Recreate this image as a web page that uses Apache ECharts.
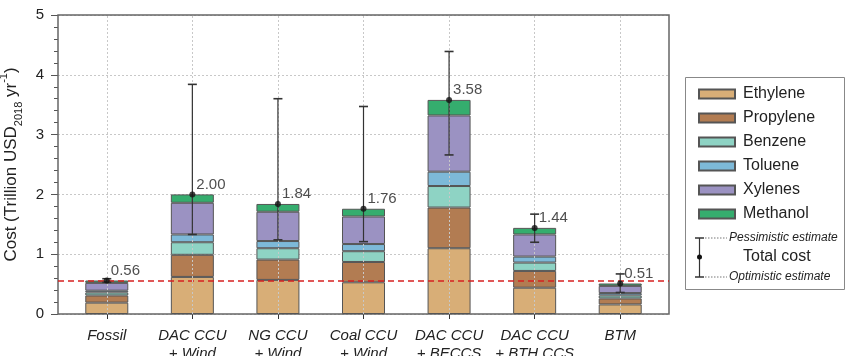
<!DOCTYPE html>
<html>
<head>
<meta charset="utf-8">
<script src="https://cdn.jsdelivr.net/npm/echarts@6/dist/echarts.min.js"></script>
<style>html,body{margin:0;padding:0;background:#fff;}#c{width:847px;height:356px;}</style>
</head>
<body>
<div id="c"></div>
<script>
const categories = ['Fossil', 'DAC CCU\n+ Wind', 'NG CCU\n+ Wind', 'Coal CCU\n+ Wind', 'DAC CCU\n+ BECCS', 'DAC CCU\n+ BTH CCS', 'BTM'];
const ethylene  = [0.19, 0.62, 0.57, 0.53, 1.10, 0.44, 0.16];
const propylene = [0.12, 0.37, 0.34, 0.34, 0.68, 0.28, 0.10];
const benzene   = [0.05, 0.21, 0.19, 0.18, 0.36, 0.14, 0.05];
const toluene   = [0.03, 0.13, 0.12, 0.12, 0.24, 0.10, 0.04];
const xylenes   = [0.13, 0.53, 0.49, 0.46, 0.94, 0.37, 0.12];
const methanol  = [0.04, 0.14, 0.13, 0.13, 0.26, 0.11, 0.04];
const totals    = [0.56, 2.00, 1.84, 1.76, 3.58, 1.44, 0.51];
const optimistic  = [0.53, 1.33, 1.24, 1.21, 2.66, 1.20, 0.36];
const pessimistic = [0.59, 3.84, 3.60, 3.47, 4.39, 1.67, 0.67];
const fossilLevel = 0.56;
const yTicks = [0, 1, 2, 3, 4, 5];

const seriesNames = ['Ethylene', 'Propylene', 'Benzene', 'Toluene', 'Xylenes', 'Methanol'];
const seriesData = [ethylene, propylene, benzene, toluene, xylenes, methanol];
const colors = ['#d8ae77', '#b27c52', '#8ed3c4', '#7db9d8', '#9b92c2', '#35ad6e'];

const FONT = 'Liberation Sans, Arial, sans-serif';
const chart = echarts.init(document.getElementById('c'), null, {renderer: 'canvas'});

const barSeries = seriesNames.map((n, k) => ({
  name: n, type: 'bar', stack: 'total', xAxisIndex: 0, yAxisIndex: 1,
  barWidth: 43, data: seriesData[k], z: 3,
  itemStyle: {color: colors[k], borderColor: '#555', borderWidth: 1},
  emphasis: {disabled: true}
}));

const option = {
  animation: false,
  backgroundColor: '#fff',
  textStyle: {fontFamily: FONT},
  grid: [
    {left: 64, right: 184, top: 15, bottom: 42, outerBoundsMode: 'none', containLabel: false},
    {left: 58, right: 178, top: 15, bottom: 42, outerBoundsMode: 'none', containLabel: false,
     show: true, borderColor: '#666', borderWidth: 1.5, z: 1}
  ],
  xAxis: [
    {type: 'category', gridIndex: 0, data: categories,
     axisLine: {show: false},
     axisTick: {show: true, alignWithLabel: true, length: 5, lineStyle: {color: '#333'}},
     axisLabel: {interval: 0, fontFamily: FONT, fontSize: 15, fontStyle: 'italic', color: '#222', margin: 13, lineHeight: 18},
     splitLine: {show: false}},
    {type: 'value', gridIndex: 1, min: 0, max: 1, show: false}
  ],
  yAxis: [
    {type: 'value', gridIndex: 1, min: 0, max: 5, interval: 1,
     axisLine: {show: false},
     axisTick: {show: true, inside: false, length: 7, lineStyle: {color: '#555'}},
     minorTick: {show: true, splitNumber: 5, length: 4, lineStyle: {color: '#555'}},
     splitLine: {show: true, lineStyle: {color: '#c8c8c8', type: [2, 2], width: 1}},
     axisLabel: {fontFamily: FONT, fontSize: 15, color: '#222', margin: 14},
     name: '{n|Cost (Trillion USD}{sub|2018}{n| yr}{sup|-1}{n|)}',
     nameLocation: 'middle', nameGap: 28, nameRotate: 90,
     nameTextStyle: {
       fontFamily: FONT, color: '#222',
       rich: {
         n: {fontFamily: FONT, fontSize: 17, color: '#222', lineHeight: 26, verticalAlign: 'middle'},
         sub: {fontFamily: FONT, fontSize: 11, color: '#222', lineHeight: 12, verticalAlign: 'bottom'},
         sup: {fontFamily: FONT, fontSize: 11, color: '#222', lineHeight: 12, verticalAlign: 'top'}
       }
     }},
    {type: 'value', gridIndex: 0, min: 0, max: 5, interval: 1, show: false}
  ],
  legend: {
    orient: 'vertical', left: 693, top: 80,
    itemWidth: 36, itemHeight: 9, itemGap: 6, icon: 'rect',
    data: seriesNames,
    textStyle: {fontFamily: FONT, fontSize: 16, color: '#222', lineHeight: 18, padding: [0, 0, 0, 3]},
    selectedMode: false
  },
  series: [
    {type: 'line', xAxisIndex: 1, yAxisIndex: 0, data: [], z: 1, silent: true,
     markLine: {symbol: 'none', silent: true, label: {show: false},
       lineStyle: {color: '#d62020', type: [6, 4], width: 1.5},
       data: [{yAxis: fossilLevel}]}},
    {type: 'line', xAxisIndex: 0, yAxisIndex: 1, data: [], z: 1, silent: true,
     markLine: {symbol: 'none', silent: true, label: {show: false},
       lineStyle: {color: '#c8c8c8', type: [2, 2], width: 1},
       data: categories.map(c => ({xAxis: c}))}},
    ...barSeries,
    {type: 'custom', xAxisIndex: 0, yAxisIndex: 1, z: 5, silent: true,
     encode: {x: 0, y: [1, 2]},
     data: categories.map((c, i) => [i, optimistic[i], pessimistic[i]]),
     renderItem: function (params, api) {
       const i = api.value(0);
       const lo = api.coord([i, api.value(1)]);
       const hi = api.coord([i, api.value(2)]);
       const w = 4.5;
       const st = {stroke: '#333', lineWidth: 1.2};
       return {type: 'group', children: [
         {type: 'line', shape: {x1: hi[0], y1: hi[1], x2: lo[0], y2: lo[1]}, style: st},
         {type: 'line', shape: {x1: hi[0] - w, y1: hi[1], x2: hi[0] + w, y2: hi[1]}, style: {stroke: '#333', lineWidth: 1.6}},
         {type: 'line', shape: {x1: lo[0] - w, y1: lo[1], x2: lo[0] + w, y2: lo[1]}, style: {stroke: '#333', lineWidth: 1.6}}
       ]};
     }},
    {type: 'scatter', xAxisIndex: 0, yAxisIndex: 1, z: 6, silent: true,
     data: totals, symbol: 'circle', symbolSize: 6,
     itemStyle: {color: '#111'},
     label: {show: true, position: 'right', distance: 1, offset: [0, -10],
       fontFamily: FONT, fontSize: 15, color: '#222',
       formatter: p => Number(p.value).toFixed(2)}}
  ],
  graphic: [
    {type: 'rect', shape: {x: 685.5, y: 77.5, width: 159, height: 212}, style: {fill: 'none', stroke: '#888', lineWidth: 1}, silent: true},
    {type: 'line', shape: {x1: 699.5, y1: 238, x2: 699.5, y2: 277}, style: {stroke: '#333', lineWidth: 1.2}},
    {type: 'line', shape: {x1: 695, y1: 238, x2: 704, y2: 238}, style: {stroke: '#333', lineWidth: 1.5}},
    {type: 'line', shape: {x1: 695, y1: 277, x2: 704, y2: 277}, style: {stroke: '#333', lineWidth: 1.5}},
    {type: 'circle', shape: {cx: 699.5, cy: 257, r: 2.5}, style: {fill: '#111'}},
    {type: 'line', shape: {x1: 705, y1: 238, x2: 727, y2: 238}, style: {stroke: '#777', lineWidth: 1, lineDash: [1.5, 1.5]}},
    {type: 'line', shape: {x1: 705, y1: 277, x2: 727, y2: 277}, style: {stroke: '#777', lineWidth: 1, lineDash: [1.5, 1.5]}},
    {type: 'text', x: 729, y: 238, style: {text: 'Pessimistic estimate', font: 'italic 12px Liberation Sans, Arial, sans-serif', fill: '#222', verticalAlign: 'middle', align: 'left'}},
    {type: 'text', x: 743, y: 257, style: {text: 'Total cost', font: '16px Liberation Sans, Arial, sans-serif', fill: '#222', verticalAlign: 'middle', align: 'left'}},
    {type: 'text', x: 729, y: 277, style: {text: 'Optimistic estimate', font: 'italic 12px Liberation Sans, Arial, sans-serif', fill: '#222', verticalAlign: 'middle', align: 'left'}}
  ]
};
chart.setOption(option);
</script>
</body>
</html>
